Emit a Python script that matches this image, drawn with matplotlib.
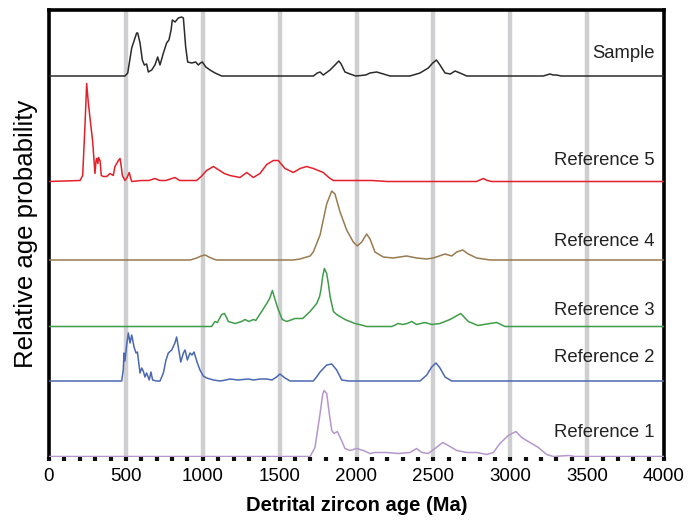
import matplotlib
matplotlib.use("Agg")
import matplotlib.pyplot as plt

plt.rcParams['font.family'] = ['Liberation Sans', 'DejaVu Sans']

# ---- data (age in Ma, relative probability height) ----
sample_age = [0, 494, 512, 538, 555, 570, 577, 592, 607, 620, 635, 646, 668, 689, 707, 722, 744, 765, 780, 794, 802, 820, 841, 863, 874, 889, 902, 928, 954, 971, 985, 997, 1020, 1047, 1080, 1123, 1720, 1745, 1763, 1784, 1828, 1860, 1885, 1900, 1925, 1958, 1995, 2060, 2088, 2131, 2175, 2218, 2348, 2413, 2467, 2496, 2520, 2543, 2576, 2610, 2641, 2673, 2717, 3215, 3258, 3280, 3302, 3330, 4000]
sample_val = [0, 0, 3, 28, 36, 43, 43, 33, 16, 11, 12, 4, 6, 11, 19, 11, 23, 33, 36, 46, 56, 54, 58, 59, 58, 29, 14, 13, 14, 11, 13, 14, 9, 6, 3, 0, 0, 3, 4, 1, 6, 11, 15, 12, 4, 2, 0, 1, 3, 4, 2, 0, 0, 3, 8, 13, 16, 11, 3, 2, 5, 3, 0, 0, 2, 1, 1, 0, 0]

ref5_age = [0, 202, 219, 234, 245, 255, 267, 284, 299, 306, 310, 318, 322, 327, 332, 340, 353, 375, 397, 408, 418, 429, 444, 451, 462, 470, 477, 494, 508, 522, 530, 538, 600, 650, 689, 720, 760, 819, 850, 960, 990, 1025, 1069, 1100, 1140, 1177, 1242, 1286, 1329, 1372, 1416, 1459, 1491, 1535, 1589, 1633, 1676, 1719, 1784, 1820, 1849, 1900, 2000, 2100, 2200, 2780, 2825, 2850, 2880, 4000]
ref5_val = [0, 1, 6, 56, 98, 80, 63, 40, 8, 21, 23, 18, 24, 22, 21, 6, 5, 5, 8, 7, 6, 15, 19, 21, 23, 15, 6, 1, 4, 9, 4, 0, 1, 1, 3, 1, 1, 4, 1, 1, 5, 11, 15, 12, 8, 6, 4, 9, 4, 8, 17, 21, 21, 13, 9, 13, 15, 13, 9, 4, 1, 1, 1, 1, 0, 0, 3, 1, 0, 0]

ref4_age = [0, 920, 960, 990, 1015, 1040, 1069, 1090, 1589, 1633, 1676, 1698, 1719, 1763, 1806, 1839, 1860, 1893, 1936, 1979, 2005, 2034, 2066, 2088, 2120, 2174, 2239, 2280, 2326, 2391, 2457, 2500, 2576, 2619, 2652, 2691, 2727, 2782, 2868, 4000]
ref4_val = [0, 0, 2, 4, 5, 3, 1, 0, 0, 1, 3, 4, 8, 25, 56, 69, 66, 48, 30, 18, 14, 18, 26, 21, 8, 3, 2, 3, 4, 2, 1, 2, 6, 4, 8, 10, 6, 2, 0, 0]

ref3_age = [0, 1058, 1070, 1080, 1095, 1123, 1141, 1155, 1166, 1210, 1253, 1275, 1300, 1329, 1345, 1383, 1416, 1435, 1453, 1470, 1491, 1517, 1546, 1600, 1650, 1698, 1741, 1760, 1769, 1780, 1791, 1806, 1818, 1828, 1850, 1871, 1925, 1990, 2044, 2066, 2230, 2272, 2300, 2330, 2359, 2390, 2446, 2490, 2543, 2608, 2678, 2727, 2790, 2868, 2912, 2966, 4000]
ref3_val = [0, 0, 3, 5, 4, 12, 13, 9, 5, 3, 5, 7, 5, 7, 6, 15, 23, 28, 36, 27, 17, 7, 5, 8, 8, 15, 23, 30, 37, 50, 58, 53, 42, 30, 15, 12, 7, 3, 1, 0, 0, 3, 2, 3, 5, 2, 4, 2, 3, 7, 13, 5, 1, 3, 4, 0, 0]

ref2_age = [0, 473, 483, 488, 494, 505, 516, 527, 538, 553, 566, 575, 592, 603, 613, 624, 635, 652, 663, 674, 700, 722, 744, 761, 776, 798, 819, 830, 841, 857, 874, 885, 900, 917, 930, 943, 965, 982, 1004, 1025, 1070, 1112, 1150, 1177, 1230, 1296, 1330, 1372, 1416, 1450, 1480, 1502, 1535, 1568, 1719, 1740, 1763, 1806, 1839, 1871, 1904, 1950, 2413, 2457, 2489, 2517, 2543, 2576, 2619, 4000]
ref2_val = [0, 0, 11, 28, 20, 36, 48, 38, 46, 34, 28, 29, 8, 13, 10, 4, 8, 1, 9, 1, 0, 0, 8, 21, 28, 31, 38, 44, 34, 19, 28, 31, 21, 28, 26, 29, 18, 11, 5, 3, 1, 0, 1, 2, 1, 2, 1, 2, 2, 1, 4, 7, 3, 0, 0, 4, 9, 16, 17, 11, 1, 0, 0, 6, 14, 18, 13, 4, 0, 0]

ref1_age = [0, 1698, 1730, 1763, 1780, 1789, 1806, 1823, 1839, 1854, 1875, 1897, 1925, 1958, 2001, 2044, 2088, 2120, 2196, 2270, 2348, 2391, 2424, 2467, 2511, 2561, 2597, 2652, 2717, 2782, 2847, 2890, 2933, 2987, 3037, 3074, 3128, 3183, 3237, 3280, 3380, 3420, 4000]
ref1_val = [0, 0, 9, 43, 62, 66, 63, 43, 26, 23, 25, 18, 8, 6, 8, 6, 3, 4, 4, 3, 4, 8, 4, 3, 8, 14, 11, 6, 4, 4, 2, 4, 13, 21, 25, 19, 14, 9, 2, 0, 1, 0, 0]

labels = ["Sample", "Reference 5", "Reference 4", "Reference 3", "Reference 2", "Reference 1"]
x_ticks = [0, 500, 1000, 1500, 2000, 2500, 3000, 3500, 4000]

# ---- layout / style ----
series = [
    (sample_age, sample_val, 381.0, '#2b2b2b', 23),
    (ref5_age, ref5_val, 275.5, '#e3202a', 21),
    (ref4_age, ref4_val, 197.0, '#9a7b4f', 19),
    (ref3_age, ref3_val, 130.5, '#3f9d4a', 16),
    (ref2_age, ref2_val, 76.0, '#4a68b3', 23),
    (ref1_age, ref1_val, 0.5, '#b597cc', 24),
]

fig = plt.figure(figsize=(6.89, 5.27), dpi=100)
ax = fig.add_axes([49/689, 1-457/527, (664-49)/689, (457-10)/527])
ax.set_xlim(0, 4000)
ax.set_ylim(0, 447)

for xv in x_ticks[1:-1]:
    ax.axvline(xv, color='#cfcfd2', lw=3.2, zorder=1)

for (a, v, off, col, lab_dy), lab in zip(series, labels):
    ax.plot(a, [off + t for t in v], color=col, lw=1.1, zorder=3)
    ax.text(3940, off + lab_dy, lab, ha='right', va='center', fontsize=13.3,
            color='#222222', zorder=4)

for s in ['left', 'top', 'right']:
    ax.spines[s].set_linewidth(2.6)
    ax.spines[s].set_color('black')
ax.spines['bottom'].set_visible(False)

ax.set_xticks(x_ticks)
ax.set_xticks(range(0, 4001, 100), minor=True)
ax.tick_params(axis='x', which='both', direction='out', length=3, width=3,
               color='#111111', labelsize=13.5, pad=5)
ax.set_yticks([])

ax.set_xlabel('Detrital zircon age (Ma)', fontsize=14.5, fontweight='bold', labelpad=8)
ax.set_ylabel('Relative age probability', fontsize=18.5, labelpad=8)

fig.savefig('out.png', dpi=100)
